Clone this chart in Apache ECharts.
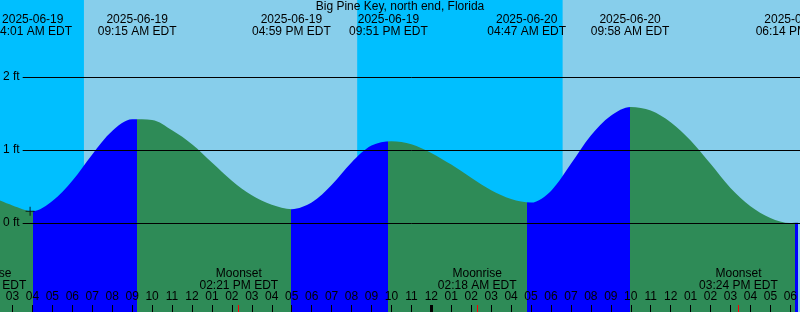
<!DOCTYPE html>
<html>
<head>
<meta charset="utf-8">
<style>
  html, body { margin: 0; padding: 0; background: #87CEEB; }
  #chart { width: 800px; height: 312px; }
</style>
<script src="https://cdn.jsdelivr.net/npm/echarts/dist/echarts.min.js"></script>
</head>
<body>
<div id="chart"></div>
<script>
// ---------------- data ----------------
const chartTitle = 'Big Pine Key, north end, Florida';

// Tide height (ft) at each whole hour, starting at hourlyStart
const hourlyStart = '2025-06-19 02:00';
const hourlyHeights = [
  0.35, 0.24, 0.16, 0.30, 0.58, 0.94, 1.26, 1.42, 1.41, 1.27,
  1.08, 0.83, 0.58, 0.38, 0.25, 0.19, 0.28, 0.52, 0.83, 1.06,
  1.12, 1.08, 0.96, 0.80, 0.62, 0.45, 0.33, 0.28, 0.44, 0.81,
  1.20, 1.47, 1.59, 1.54, 1.38, 1.13, 0.81, 0.48, 0.23, 0.07,
  0.00, 0.01
];

// High / low tides
const tideTimes   = ['2025-06-19 04:01', '2025-06-19 09:15', '2025-06-19 16:59', '2025-06-19 21:51',
                     '2025-06-20 04:47', '2025-06-20 09:58', '2025-06-20 18:14'];
const tideTypes   = ['low', 'high', 'low', 'high', 'low', 'high', 'low'];
const tideHeights = [0.16, 1.43, 0.19, 1.12, 0.28, 1.59, -0.01];

// Sun events (day / night shading)
const sunTimes = ['2025-06-19 06:35', '2025-06-19 20:17', '2025-06-20 06:35'];
const sunTypes = ['sunrise', 'sunset', 'sunrise'];

// Moon events
const moonTimes = ['2025-06-19 01:43', '2025-06-19 14:21', '2025-06-20 02:18', '2025-06-20 15:24'];
const moonTypes = ['Moonrise', 'Moonset', 'Moonrise', 'Moonset'];

// Hour tick labels, one per hour from firstHourTick
const firstHourTick = '2025-06-19 03:00';
const hourLabels = ['03','04','05','06','07','08','09','10','11','12','01','02','03','04','05','06','07','08','09','10','11',
                    '12','01','02','03','04','05','06','07','08','09','10','11','12','01','02','03','04','05','06'];
const midnightTicks = ['2025-06-20 00:00'];

// Height axis ticks
const heightTicks = [0, 1, 2];
const heightUnit = 'ft';

// "+" mark
const markTime = '2025-06-19 03:53';
const markHeight = 0.16;

// ---------------- layout / style ----------------
const viewStart = '2025-06-19 02:22:30';
const VIEW_HOURS = 40;
const H = 312, ZERO_Y = 223, PX_PER_FT = 73;
const FONT = '"Liberation Sans", Arial, sans-serif';
const DAY = '#87CEEB', NIGHT = '#00BFFF', RISE = '#0000FF', FALL = '#2E8B57';

function hrs(s) {
  const [d, t] = s.split(' ');
  const day = parseInt(d.slice(8, 10), 10) - 19;
  const p = t.split(':').map(Number);
  return day * 24 + p[0] + p[1] / 60 + (p[2] || 0) / 3600;
}
function fmtTime(s) {
  const p = s.split(' ')[1].split(':').map(Number);
  const h12 = p[0] % 12 === 0 ? 12 : p[0] % 12;
  return String(h12).padStart(2, '0') + ':' + String(p[1]).padStart(2, '0') + ' ' + (p[0] < 12 ? 'AM' : 'PM') + ' EDT';
}

const xMin = hrs(viewStart), xMax = xMin + VIEW_HOURS;
const yMin = -(H - ZERO_Y) / PX_PER_FT, yMax = ZERO_Y / PX_PER_FT;

// tide curve from the hourly readings
const h0 = hrs(hourlyStart);
const tideData = hourlyHeights.map((v, i) => [h0 + i, v]);

// rising / falling pieces, split at the high / low tide times
const pieces = [];
let prev = null;
tideTimes.forEach((t, i) => {
  const v = hrs(t);
  const p = { lt: v, color: tideTypes[i] === 'high' ? RISE : FALL };
  if (prev !== null) p.gte = prev;
  pieces.push(p);
  prev = v;
});
pieces.push({ gte: prev, color: tideTypes[tideTypes.length - 1] === 'low' ? RISE : FALL });

// night ranges
const nights = [];
let nightStart = sunTypes[0] === 'sunrise' ? xMin : null;
sunTimes.forEach((t, i) => {
  if (sunTypes[i] === 'sunrise') { nights.push([{ xAxis: nightStart }, { xAxis: hrs(t) }]); nightStart = null; }
  else nightStart = hrs(t);
});
if (nightStart !== null) nights.push([{ xAxis: nightStart }, { xAxis: xMax }]);

const hourTickValues = hourLabels.map((_, i) => hrs(firstHourTick) + i);
const hourLabelMap = {};
hourTickValues.forEach((v, i) => { hourLabelMap[v] = hourLabels[i]; });

const chart = echarts.init(document.getElementById('chart'), null, { renderer: 'canvas' });
chart.setOption({
  animation: false,
  backgroundColor: DAY,
  title: {
    text: chartTitle, left: 'center', top: 1, padding: 0,
    textStyle: { fontFamily: FONT, fontSize: 12, fontWeight: 'normal', color: '#000', lineHeight: 12 }
  },
  grid: [
    { left: 0, right: 0, top: 0, bottom: 0 },
    { left: 22, right: 0, top: ZERO_Y - 2 * PX_PER_FT, bottom: H - ZERO_Y }
  ],
  xAxis: [
    {
      type: 'value', gridIndex: 0, min: xMin, max: xMax, position: 'bottom', z: 10,
      axisLine: { show: false, onZero: false }, splitLine: { show: false },
      axisTick: { show: true, inside: true, length: 7, customValues: hourTickValues, lineStyle: { color: '#000', width: 1 } },
      axisLabel: {
        show: true, inside: true, margin: 9, customValues: hourTickValues,
        formatter: v => hourLabelMap[v] || '',
        fontFamily: FONT, fontSize: 12, color: '#000', lineHeight: 12
      }
    },
    {
      type: 'value', gridIndex: 0, min: xMin, max: xMax, position: 'bottom', z: 10,
      axisLine: { show: false, onZero: false }, splitLine: { show: false }, axisLabel: { show: false },
      axisTick: { show: true, inside: true, length: 7, customValues: midnightTicks.map(hrs), lineStyle: { color: '#000', width: 3 } }
    },
    { type: 'value', gridIndex: 1, min: 0, max: 1, show: false }
  ],
  yAxis: [
    { type: 'value', gridIndex: 0, min: yMin, max: yMax, show: false },
    {
      type: 'value', gridIndex: 1, min: heightTicks[0], max: heightTicks[heightTicks.length - 1], interval: 1, z: 10,
      axisLine: { show: false, onZero: false }, axisTick: { show: false },
      splitLine: { show: true, lineStyle: { color: '#000', width: 1 } },
      axisLabel: { formatter: v => v + ' ' + heightUnit, margin: 3, fontFamily: FONT, fontSize: 12, color: '#000' }
    }
  ],
  visualMap: { type: 'piecewise', show: false, dimension: 0, seriesIndex: 0, pieces: pieces },
  series: [
    {
      type: 'line', xAxisIndex: 0, yAxisIndex: 0, data: tideData, smooth: 0.33,
      symbol: 'none', showSymbol: false, silent: true, z: 2,
      lineStyle: { width: 0 },
      areaStyle: { opacity: 1, origin: 'start' },
      markArea: { silent: true, itemStyle: { color: NIGHT, opacity: 1, borderWidth: 0 }, label: { show: false }, data: nights }
    },
    {
      type: 'scatter', xAxisIndex: 0, yAxisIndex: 0, data: [[hrs(markTime), markHeight]], silent: true, z: 6,
      symbol: 'path://M0,4H9V5H0Z M4,0H5V9H4Z', symbolSize: 9, itemStyle: { color: '#000' }
    },
    {
      type: 'custom', xAxisIndex: 0, yAxisIndex: 0, silent: true, z: 10, clip: false,
      data: tideTimes.map((t, i) => [hrs(t), tideHeights[i]]),
      renderItem: (params, api) => {
        const x = api.coord([api.value(0), 0])[0];
        const t = tideTimes[params.dataIndex];
        return {
          type: 'text', x: x, y: 13.5,
          style: { text: t.slice(0, 10) + '\n' + fmtTime(t), align: 'center', verticalAlign: 'top',
                   font: '12px ' + FONT, lineHeight: 12, fill: '#000' }
        };
      }
    },
    {
      type: 'custom', xAxisIndex: 0, yAxisIndex: 0, silent: true, z: 10, clip: false,
      data: moonTimes.map(t => [hrs(t), 0]),
      renderItem: (params, api) => {
        const x = api.coord([api.value(0), 0])[0];
        const i = params.dataIndex;
        const xc = Math.floor(x) + 0.5;
        return {
          type: 'group',
          children: [
            { type: 'line', shape: { x1: xc, y1: 305, x2: xc, y2: 312 }, style: { stroke: '#FF0000', lineWidth: 1 } },
            { type: 'text', x: x, y: 267.3,
              style: { text: moonTypes[i] + '\n' + fmtTime(moonTimes[i]), align: 'center', verticalAlign: 'top',
                       font: '12px ' + FONT, lineHeight: 12, fill: '#000' } }
          ]
        };
      }
    }
  ]
});
</script>
</body>
</html>
